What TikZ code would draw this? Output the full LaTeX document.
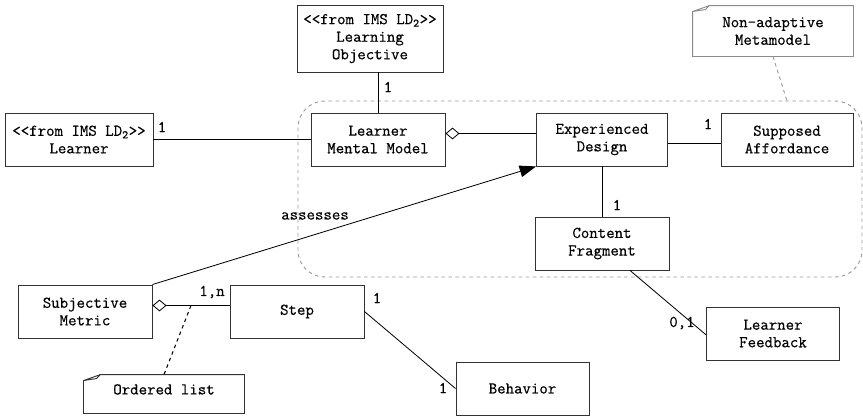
\documentclass[tikz,border=0pt]{standalone}
\usepackage{fontspec}
\newfontfamily\umlfont[FakeBold=0.5]{Latin Modern Mono}
\usetikzlibrary{arrows.meta,calc}

\begin{document}
\begin{tikzpicture}[x=0.03cm, y=-0.03cm]
\tikzset{
	cls/.style = {
		draw=black!80, line width=0.8pt,
		minimum width=4.02cm, minimum height=1.59cm,
		align=center, inner sep=2pt,
		font=\umlfont\fontsize{14}{15}\selectfont
	},
	note/.style = {
		cls, draw=none,
		minimum width=4.8cm
	},
	mult/.style = {
		inner sep=1pt,
		font=\umlfont\fontsize{14}{15}\selectfont
	},
	every edge/.style={
		draw, line width=0.7pt
	},
}
\useasboundingbox (0,0) rectangle (863,417);

% the package frame
\draw[gray!80, dashed, line width=0.8pt, rounded corners=0.8cm] (298,101) rectangle (862,277);
\coordinate (pkgtop) at (787,101);

% classes
\node [cls, minimum width=4.38cm, minimum height=2.01cm] (lo) at (370,38.5) {<{}<from IMS LD\textsubscript{2}>{}>\\Learning\\Objective};
\node [cls, minimum width=4.44cm] (lrn) at (79,139.5) {<{}<from IMS LD\textsubscript{2}>{}>\\Learner};
\node [cls] (lmm) at (378,139.5) {Learner\\Mental Model};
\node [cls, minimum width=3.93cm] (ed) at (602,139.5) {Experienced\\Design};
\node [cls, minimum width=3.96cm] (sa) at (787,139.5) {Supposed\\Affordance};
\node [cls] (cf) at (602,243.5) {Content\\Fragment};
\node [cls, minimum width=3.99cm] (lf) at (773,333.5) {Learner\\Feedback};
\node [cls] (sm) at (85,311.5) {Subjective\\Metric};
\node [cls] (step) at (297,311.5) {Step};
\node [cls, minimum width=3.99cm] (beh) at (522.5,388.5) {Behavior};

% notes
\node [note, minimum height=1.5cm] (meta) at (773,31) {Non-adaptive\\Metamodel};
\node [note, minimum height=1.14cm, text depth=8pt] (olist) at (164,394) {Ordered list};
\draw[gray!90, line width=0.8pt]
	(meta.south west) -- ([yshift=-0.18cm]meta.north west) -- ([xshift=0.51cm]meta.north west)
	-- (meta.north east) -- (meta.south east) -- cycle
	([yshift=-0.18cm]meta.north west) -- ([xshift=0.39cm,yshift=-0.12cm]meta.north west) -- ([xshift=0.51cm]meta.north west);
\draw[black!80, line width=0.8pt]
	(olist.south west) -- ([yshift=-0.18cm]olist.north west) -- ([xshift=0.51cm]olist.north west)
	-- (olist.north east) -- (olist.south east) -- cycle
	([yshift=-0.18cm]olist.north west) -- ([xshift=0.39cm,yshift=-0.12cm]olist.north west) -- ([xshift=0.51cm]olist.north west);

% associations
\path (lmm.north) edge (lmm.north |- lo.south);
\path (lrn.east) edge (lmm.west);
\path ([yshift=-0.12cm]ed.east) edge ([yshift=-0.12cm]sa.west);
\path (ed.south) edge (cf.north);
\path ([xshift=0.84cm]cf.south) edge ([yshift=-0.04cm]lf.west);
\path (step.east) edge (beh.west);
\draw [line width=0.7pt, {Diamond[open,length=12pt,width=10pt]}-]
	([yshift=0.18cm]lmm.east) -- ([yshift=0.18cm]ed.west);
\draw [line width=0.7pt, {Diamond[open,length=12pt,width=10pt]}-]
	([yshift=0.18cm]sm.east) -- ([yshift=0.18cm]step.west);
\draw [line width=0.7pt, -{Triangle[length=14pt,width=10pt]}] (sm.north east) -- (ed.south west);

% ordered list constraint
\coordinate (agg) at ($([yshift=0.18cm]sm.east)!0.5!([yshift=0.18cm]step.west)$);
\draw [dashed, line width=0.9pt] (agg) -- (olist.north);
\draw [gray!80, dashed, line width=0.8pt] (meta.south) -- (pkgtop);

% multiplicities
\node [mult] (m1) at (388,87) {1};
\node [mult] (m2) at (162,127) {1};
\node [mult] (m3) at (708,124) {1};
\node [mult] (m4) at (617,205) {1};
\node [mult] (m5) at (682,323) {0,1};
\node [mult] (m6) at (212,292) {1,n};
\node [mult] (m7) at (377,298) {1};
\node [mult] (m8) at (443,388) {1};
\node [mult] (as) at (315,216) {assesses};

\end{tikzpicture}
\end{document}
